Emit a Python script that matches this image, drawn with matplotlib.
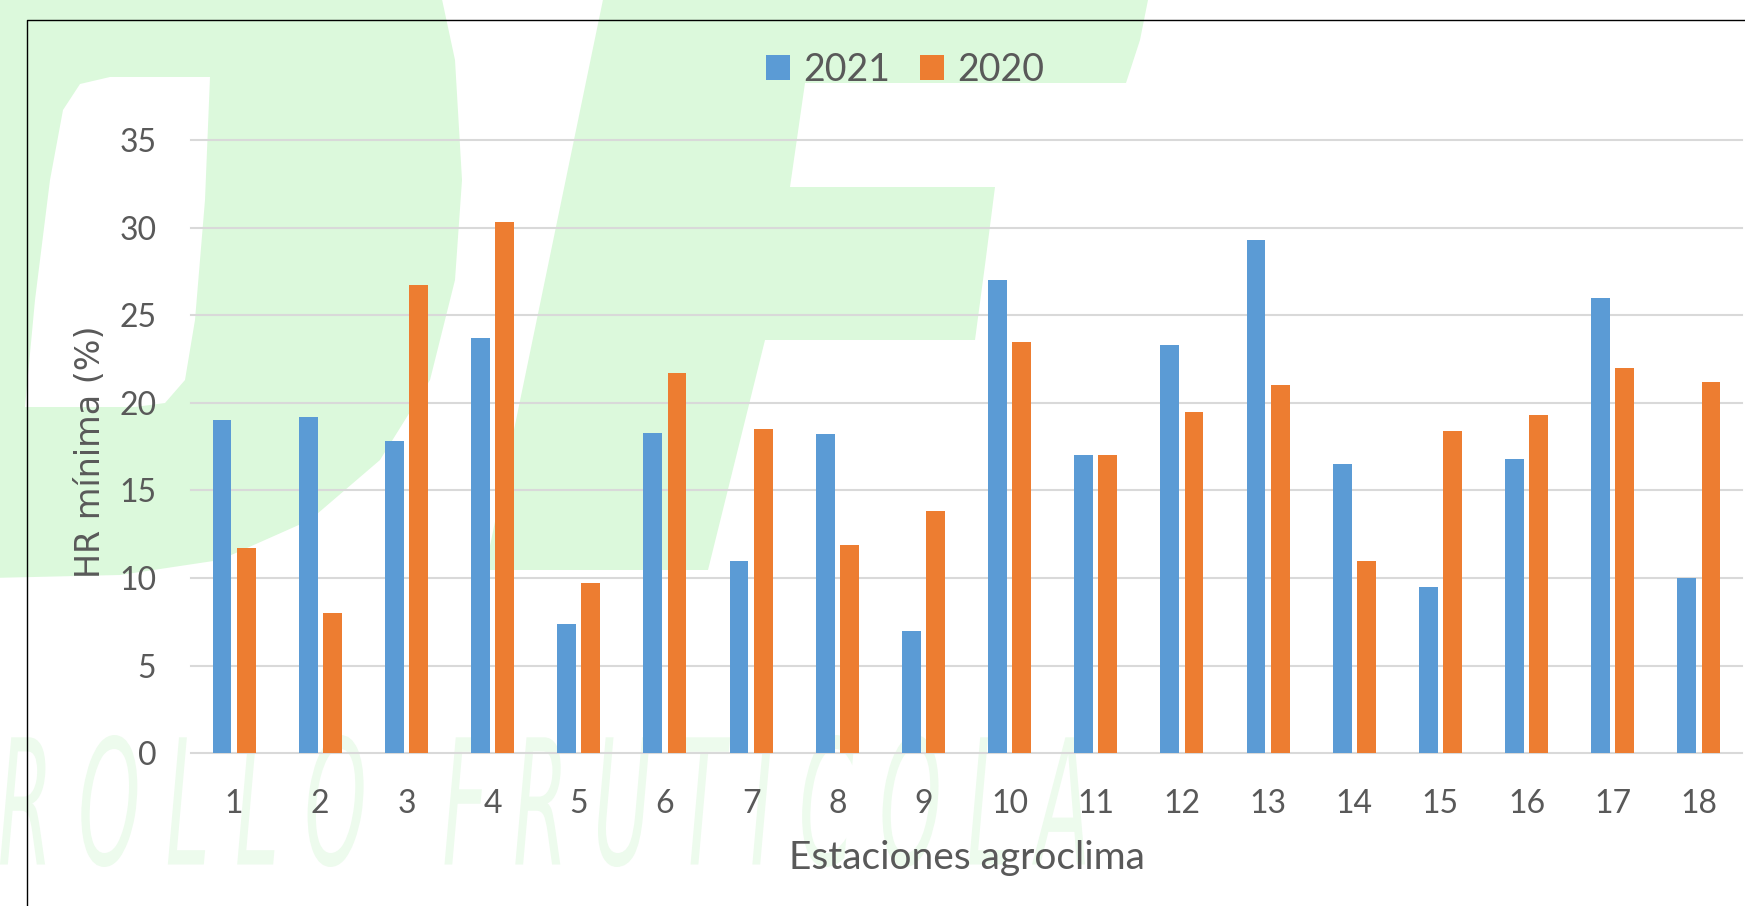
import matplotlib
matplotlib.use('Agg')
import matplotlib.pyplot as plt
import numpy as np
from matplotlib.patches import Polygon, PathPatch
from matplotlib.lines import Line2D
from matplotlib.textpath import TextPath
from matplotlib.font_manager import FontProperties
from matplotlib.transforms import Affine2D

plt.rcParams['font.family'] = ['Lato', 'DejaVu Sans']

estaciones = [str(i) for i in range(1, 19)]
hr_2021 = [19.0, 19.2, 17.8, 23.7, 7.4, 18.3, 11.0, 18.2, 7.0,
           27.0, 17.0, 23.3, 29.3, 16.5, 9.5, 16.8, 26.0, 10.0]
hr_2020 = [11.7, 8.0, 26.7, 30.3, 9.7, 21.7, 18.5, 11.9, 13.8,
           23.5, 17.0, 19.5, 21.0, 11.0, 18.4, 19.3, 22.0, 21.2]

W, H = 1745, 906
gris = '#595959'
fig = plt.figure(figsize=(W / 100, H / 100), dpi=100)

# marca de agua de fondo (logo "DF" + texto)
bg = fig.add_axes([0, 0, 1, 1], zorder=-1)
bg.set_xlim(0, W)
bg.set_ylim(H, 0)
bg.axis('off')
verde = '#dcf9dc'
letra_d = [(-10, -10), (440, -10), (455, 60), (462, 180), (455, 280), (430, 380), (380, 460),
           (310, 520), (220, 560), (120, 575), (-10, 578)]
hueco_d = [(110, 77), (210, 77), (205, 200), (195, 320), (185, 380), (165, 403), (135, 407),
           (25, 407), (35, 300), (50, 180), (63, 110), (80, 84)]
letra_f = [(605, -10), (1150, -10), (1140, 40), (1126, 83), (805, 83), (790, 187), (995, 187),
           (985, 265), (975, 340), (765, 340), (708, 570), (485, 570)]
bg.add_patch(Polygon(letra_d, closed=True, color=verde, lw=0))
bg.add_patch(Polygon(hueco_d, closed=True, color='white', lw=0))
bg.add_patch(Polygon(letra_f, closed=True, color=verde, lw=0))

tp = TextPath((0, 0), 'R O L L O   F R U T I C O L A', size=1,
              prop=FontProperties(family='DejaVu Sans', style='italic'))
ext = tp.get_extents()
sx = 1085 / ext.width
sy = (867 - 735) / ext.height
tr = Affine2D().translate(-ext.x0, -ext.y0).scale(sx, -sy).translate(0, 867)
bg.add_patch(PathPatch(tr.transform_path(tp), color='#edfbed', lw=0))

# grafico
ax = fig.add_axes([191 / W, (H - 753.3) / H, (1742 - 191) / W, (753.3 - 140) / H])
ax.set_facecolor('none')
x = np.arange(len(estaciones))
ax.bar(x - 0.14, hr_2021, 0.22, color='#5B9BD5', label='2021')
ax.bar(x + 0.14, hr_2020, 0.22, color='#ED7D31', label='2020')
ax.set_xlim(-0.5, len(estaciones) - 0.5)
ax.set_ylim(0, 35)
ax.set_yticks(range(0, 36, 5))
ax.set_xticks(x, estaciones)
ax.grid(axis='y', color='#d9d9d9', linewidth=1.5)
ax.set_axisbelow(True)
for l in ax.get_ygridlines():
    l.set_clip_on(False)
for s in ax.spines.values():
    s.set_visible(False)
ax.tick_params(length=0, labelsize=23, labelcolor=gris)
ax.tick_params(axis='y', pad=25)
ax.tick_params(axis='x', pad=26)

fig.legend(loc='center', bbox_to_anchor=(905 / W, 1 - 70 / H), ncol=2, frameon=False,
           fontsize=27, handlelength=0.65, handleheight=0.65, handletextpad=0.35,
           columnspacing=0.8, labelcolor=gris)

fig.text(91 / W, 1 - 452 / H, 'HR mínima (%)', rotation=90, ha='center', va='center',
         fontsize=24, color=gris, family='DejaVu Sans')
fig.text(967 / W, 1 - 858 / H, 'Estaciones agroclima', ha='center', va='center',
         fontsize=28, color=gris)

# marco exterior
fig.add_artist(Line2D([27 / W, 27 / W, 1.01], [-0.01, 1 - 20 / H, 1 - 20 / H],
                      transform=fig.transFigure, color='black', lw=1.0))

fig.savefig('out.png', dpi=100)
